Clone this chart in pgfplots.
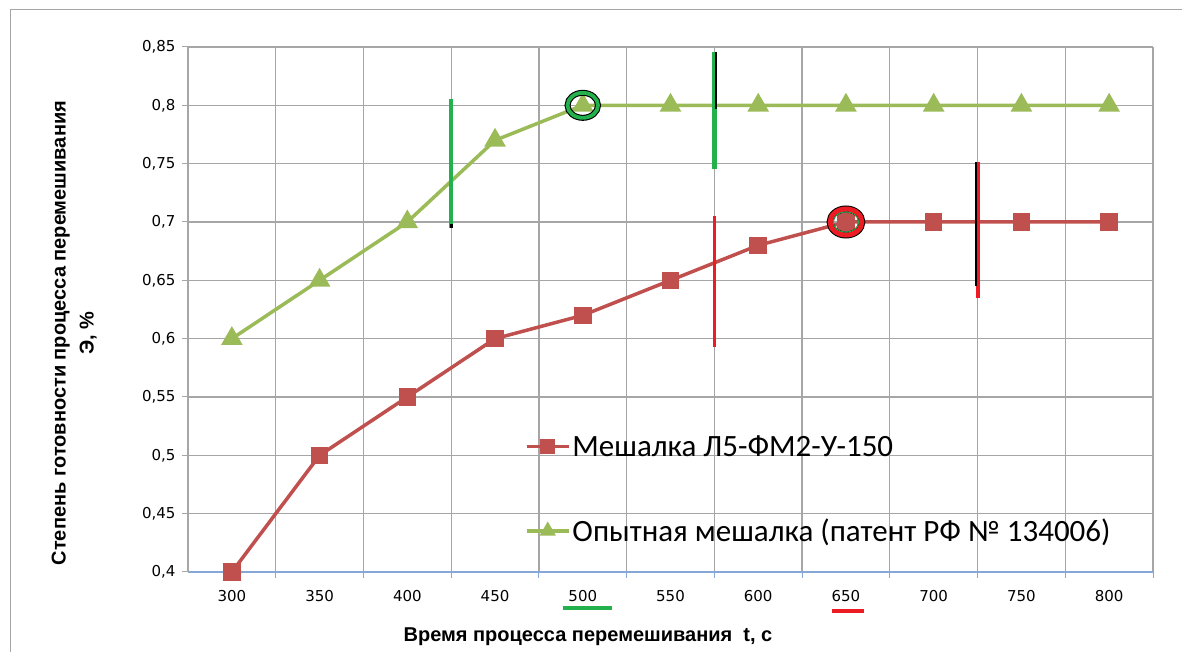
\documentclass[border=0pt]{standalone}
\usepackage{fontspec}
\setmainfont{Liberation Sans}
\newfontfamily\tickfont{DejaVu Sans}
\newfontfamily\legfont{Carlito}
\usepackage{pgfplots}
\pgfplotsset{compat=1.18}

\definecolor{serRed}{HTML}{C0504D}
\definecolor{serGreen}{HTML}{9BBB59}
\definecolor{markGreen}{HTML}{22B14C}
\definecolor{markRed}{HTML}{ED1C24}
\definecolor{gridGray}{HTML}{A6A6A6}
\definecolor{axisBlue}{HTML}{86A8D6}

\begin{document}
\begin{tikzpicture}
\useasboundingbox (0,0) rectangle (1182pt,652pt);
% chart area frame
\draw[gridGray, line width=1pt] (10pt,-20pt) -- (10pt,642pt) -- (1200pt,642pt);
\begin{axis}[
  at={(188pt,80pt)}, anchor=south west,
  scale only axis, width=965pt, height=525pt,
  clip=false,
  xmin=275, xmax=825, ymin=0.4, ymax=0.85,
  axis x line*=bottom, axis y line*=left,
  x axis line style={axisBlue, line width=1.3pt},
  y axis line style={gridGray, line width=1.3pt},
  xtick={300,350,400,450,500,550,600,650,700,750,800},
  minor xtick={325,375,425,475,525,575,625,675,725,775,825},
  ytick={0.4,0.45,0.5,0.55,0.6,0.65,0.7,0.75,0.8,0.85},
  tick align=outside, xtick pos=bottom, ytick pos=left,
  major tick length=6pt, minor tick length=6pt,
  major x tick style={draw=none},
  minor x tick style={axisBlue, line width=1pt},
  y tick style={gridGray, line width=1pt},
  xminorgrids=true, ymajorgrids=true, xmajorgrids=false,
  minor grid style={gridGray, line width=1.2pt},
  major grid style={gridGray, line width=1.2pt},
  /pgf/number format/assume math mode=true,
  yticklabel style={/pgf/number format/.cd, fixed, precision=2, use comma, /tikz/.cd, xshift=-3pt},
  xticklabel style={/pgf/number format/.cd, set thousands separator={}, /tikz/.cd, yshift=-9pt},
  tick label style={font=\tickfont\fontsize{15}{17}\selectfont},
  xlabel={Время процесса перемешивания\ \ t, с},
  ylabel={Степень готовности процесса перемешивания\\Э, \%},
  label style={font=\bfseries\fontsize{20}{28}\selectfont},
  xlabel style={at={(axis description cs:0.4145,-0.123)}, anchor=center},
  ylabel style={at={(axis description cs:-0.118,0.455)}, anchor=center, align=center},
  legend style={at={(axis description cs:0.349,0.264)}, anchor=north west,
    draw=none, fill=none, row sep=57pt, inner sep=0pt,
    font=\legfont\fontsize{31}{36}\selectfont,
    nodes={inner sep=2pt}},
  legend cell align=left,
]
% series
\addplot[serRed, line width=3.5pt, mark=square*, mark size=7pt, mark options={solid},
  legend image code/.code={\draw[mark repeat=2,mark phase=2,mark size=5.5pt] plot coordinates {(0pt,0pt)(21pt,0pt)(42pt,0pt)};}]
  coordinates {(300,0.40) (350,0.50) (400,0.55) (450,0.60) (500,0.62) (550,0.65)
               (600,0.68) (650,0.70) (700,0.70) (750,0.70) (800,0.70)};
\addlegendentry{Мешалка Л5-ФМ2-У-150}
\addplot[serGreen, line width=3.5pt, mark=triangle*, mark size=9pt, mark options={solid},
  legend image code/.code={\draw[mark repeat=2,mark phase=2,mark size=6pt] plot coordinates {(0pt,0pt)(21pt,0pt)(42pt,0pt)};}]
  coordinates {(300,0.60) (350,0.65) (400,0.70) (450,0.77) (500,0.80) (550,0.80)
               (600,0.80) (650,0.80) (700,0.80) (750,0.80) (800,0.80)};
\addlegendentry{Опытная мешалка (патент РФ № 134006)}

% vertical marker bars
\addplot[forget plot, markGreen, line width=4pt] coordinates {(425,0.695) (425,0.805)};
\addplot[forget plot, black, line width=3pt] coordinates {(425,0.695) (425,0.698)};
\addplot[forget plot, markGreen, line width=4.5pt] coordinates {(575,0.745) (575,0.846)};
\addplot[forget plot, black, line width=1.5pt, xshift=1.5pt] coordinates {(575,0.797) (575,0.846)};
\addplot[forget plot, markRed, line width=3pt] coordinates {(575,0.593) (575,0.705)};
\addplot[forget plot, markRed, line width=4pt] coordinates {(725,0.635) (725,0.751)};
\addplot[forget plot, black, line width=1.5pt, xshift=-1.5pt] coordinates {(725,0.645) (725,0.751)};

% rings round the points where each curve levels off
\addplot[forget plot, only marks, mark=o, mark size=12.5pt, mark options={black, line width=6pt, xscale=1.22}] coordinates {(500,0.80)};
\addplot[forget plot, only marks, mark=o, mark size=12.5pt, mark options={markGreen, line width=3.8pt, xscale=1.22}] coordinates {(500,0.80)};
\addplot[forget plot, only marks, mark=o, mark size=13pt, mark options={black, line width=7pt, xscale=1.22}] coordinates {(650,0.70)};
\addplot[forget plot, only marks, mark=o, mark size=13pt, mark options={markRed, line width=5pt, xscale=1.22}] coordinates {(650,0.70)};
\addplot[forget plot, only marks, mark=o, mark size=10.2pt, mark options={markGreen, line width=0.8pt, xscale=1.25}] coordinates {(650,0.70)};

% underlines below tick labels 500 and 650
\addplot[forget plot, markGreen, line width=4.5pt] coordinates {(488.5,0.369) (516.5,0.369)};
\addplot[forget plot, markRed, line width=4.5pt] coordinates {(642,0.3665) (660,0.3665)};
\end{axis}
\end{tikzpicture}
\end{document}
